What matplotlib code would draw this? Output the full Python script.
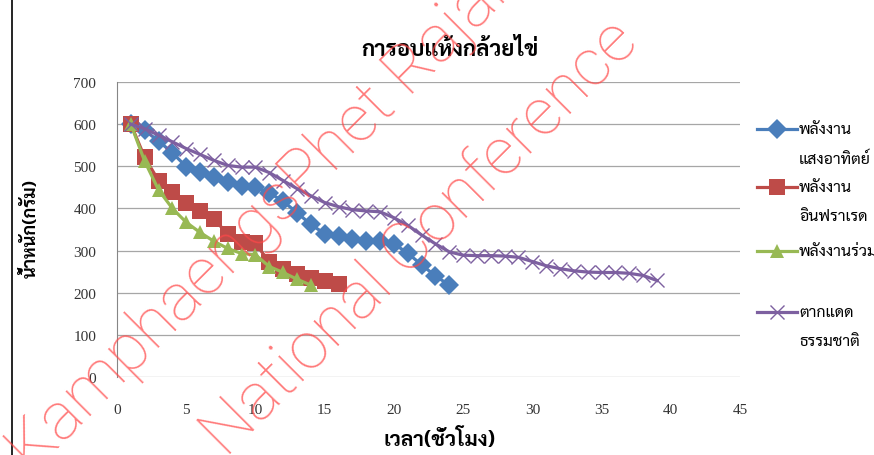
import matplotlib
matplotlib.use('Agg')
import matplotlib.pyplot as plt
from matplotlib.lines import Line2D

# drying time in hours and banana weight (g) for each drying method
hours_solar = list(range(1, 25))
solar = [600, 585, 560, 532, 499, 486, 474, 463, 454, 451, 437, 417,
         390, 362, 340, 334, 327, 323, 322, 316, 294, 266, 240, 218]

hours_ir = list(range(1, 17))
infrared = [600, 521, 466, 438, 414, 395, 375, 339, 320, 318, 272, 256,
            244, 236, 228, 220]

hours_mix = list(range(1, 15))
combined = [600, 512, 444, 400, 367, 343, 322, 305, 293, 290, 262, 248,
            232, 218]

hours_sun = list(range(1, 40))
natural = [600, 589, 574, 558, 542, 528, 514, 502, 498, 498, 485, 466,
           447, 430, 414, 404, 397, 394, 392, 378, 360, 337, 316, 297,
           289, 288, 288, 287, 284, 274, 264, 257, 252, 249, 248, 248,
           246, 241, 229]

labels = ['พลังงาน\nแสงอาทิตย์', 'พลังงาน\nอินฟราเรด', 'พลังงานร่วม', 'ตากแดด\nธรรมชาติ']
colors = ['#4A7EBB', '#BE4B48', '#98B954', '#7D60A0']
markers = ['D', 's', '^', 'x']
msizes = [10, 11, 10, 10]

title = 'การอบแห้งกล้วยไข่'
xlabel = 'เวลา(ชั่วโมง)'
ylabel = 'น้ำหนัก(กรัม)'

thai = ['Sarabun', 'DejaVu Sans']
num = ['Liberation Serif', 'DejaVu Serif']

W, H = 874, 456
fig = plt.figure(figsize=(W / 100, H / 100), dpi=100)
ax = fig.add_axes([117 / W, 1 - 378 / H, (740 - 117) / W, (378 - 83) / H])

series = [(hours_solar, solar), (hours_ir, infrared),
          (hours_mix, combined), (hours_sun, natural)]
for i, (xs, ys) in enumerate(series):
    mew = 1.0 if markers[i] == 'x' else 0
    ax.plot(xs, ys, color=colors[i], lw=2.3, marker=markers[i],
            ms=msizes[i], mew=mew, mec=colors[i], zorder=3 + i)

ax.set_xlim(0, 45)
ax.set_ylim(0, 700)
ax.set_xticks(range(0, 46, 5))
ax.set_yticks(range(0, 701, 100))
for s in ['top', 'right', 'bottom']:
    ax.spines[s].set_visible(False)
ax.spines['left'].set_color('#868686')
ax.spines['left'].set_linewidth(0.8)
ax.grid(axis='y', color='#A6A6A6', lw=0.9)
ax.set_axisbelow(True)
ax.tick_params(axis='x', length=0, pad=19)
ax.tick_params(axis='y', length=0, pad=15)
for t in ax.get_xticklabels() + ax.get_yticklabels():
    t.set_family(num)
    t.set_fontsize(11)
    t.set_color('#333333')

fig.text(450 / W, 1 - 50 / H, title, family=thai, fontsize=16,
         fontweight='bold', ha='center', va='center')
fig.text(440 / W, 1 - 440 / H, xlabel, family=thai, fontsize=15,
         fontweight='bold', ha='center', va='center')
fig.text(30 / W, 1 - 228 / H, ylabel, family=thai, fontsize=13,
         fontweight='bold', ha='center', va='center', rotation=90)

# legend drawn by hand so the marker sits beside the first text line
rows = [130, 188, 252, 313]
for i, y in enumerate(rows):
    fy = 1 - y / H
    mew = 1.0 if markers[i] == 'x' else 0
    fig.add_artist(Line2D([757 / W, 797 / W], [fy, fy], color=colors[i],
                          lw=2.3, transform=fig.transFigure))
    fig.add_artist(Line2D([777 / W], [fy], color=colors[i], marker=markers[i],
                          ms=msizes[i], mew=mew, mec=colors[i],
                          transform=fig.transFigure))
    for k, line in enumerate(labels[i].split('\n')):
        fig.text(799 / W, fy - k * 29 / H, line, family=thai, fontsize=11.5,
                 ha='left', va='center')

# border line of the chart area
fig.add_artist(Line2D([12 / W, 12 / W], [0, 1], color='black', lw=1.2,
                      transform=fig.transFigure))

# watermark
wm = dict(family='Roboto', fontweight='light', fontsize=48, color='#FF4848',
          alpha=0.72, rotation=45, rotation_mode='anchor', ha='left',
          va='center', zorder=20)
fig.text(20 / W, 1 - 462 / H, 'KamphaengsPhet Rajabhat', **wm)
fig.text(214 / W, 1 - 446 / H, 'National Conference', **wm)

fig.savefig('out.png', dpi=100)
